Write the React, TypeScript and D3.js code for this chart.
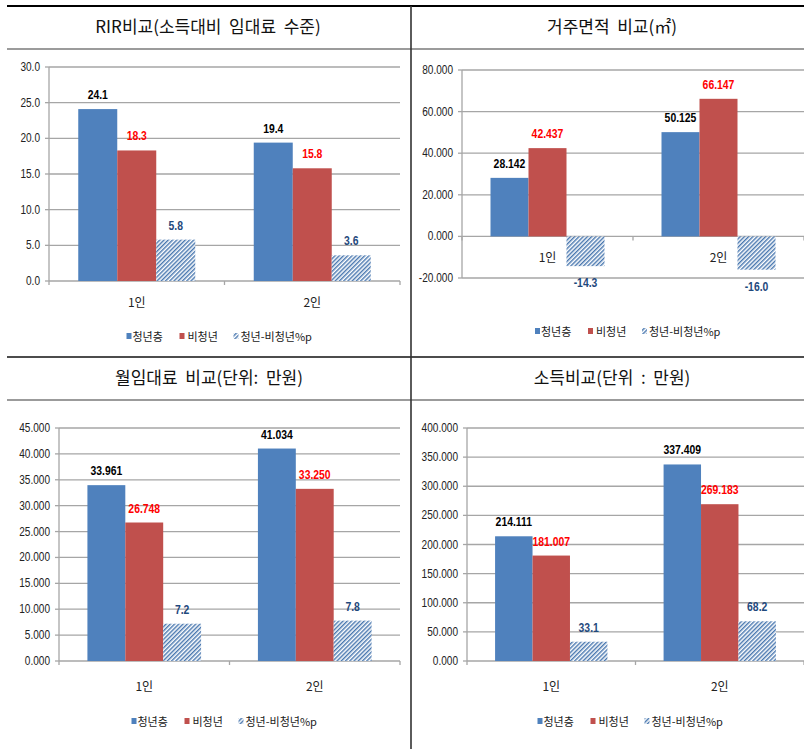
import React from "react";
import * as d3 from "d3";

const categories = ["1인", "2인"];
const seriesNames = ["청년층", "비청년", "청년-비청년%p"];

const rirYouth = [24.1, 19.4];
const rirNonYouth = [18.3, 15.8];
const rirDiff = [5.8, 3.6];

const areaYouth = [28.142, 50.125];
const areaNonYouth = [42.437, 66.147];
const areaDiff = [-14.3, -16.0];

const rentYouth = [33.961, 41.034];
const rentNonYouth = [26.748, 33.25];
const rentDiff = [7.2, 7.8];

const incomeYouth = [214.111, 337.409];
const incomeNonYouth = [181.007, 269.183];
const incomeDiff = [33.1, 68.2];

const titles = [
  "RIR비교(소득대비  임대료  수준)",
  "거주면적  비교(㎡)",
  "월임대료  비교(단위:  만원)",
  "소득비교(단위  :  만원)",
];

const rirTicks = [0, 5, 10, 15, 20, 25, 30];
const areaTicks = [-20, 0, 20, 40, 60, 80];
const rentTicks = [0, 5, 10, 15, 20, 25, 30, 35, 40, 45];
const incomeTicks = [0, 50, 100, 150, 200, 250, 300, 350, 400];

const BLUE = "#4F81BD";
const RED = "#C0504D";
const LABEL_COLORS = ["#000000", "#FF0000", "#1F497D"];
const KFONT = "'Noto Sans CJK KR', 'Noto Sans', sans-serif";
const NFONT = "'Liberation Sans', Arial, sans-serif";

const locale = d3.formatLocale({
  decimal: ".",
  thousands: ",",
  grouping: [3],
  currency: ["", ""],
  minus: "-",
});

type Panel = {
  title: string;
  titleX: number;
  titleY: number;
  x0: number;
  x1: number;
  yTop: number;
  yBot: number;
  ticks: number[];
  tickFmt: string;
  valFmt: string;
  series: number[][];
  catDy: number;
  legendY: number;
};

const panels: Panel[] = [
  {
    title: titles[0], titleX: 208, titleY: 33,
    x0: 49, x1: 400, yTop: 67, yBot: 281,
    ticks: rirTicks, tickFmt: ".1f", valFmt: ".1f",
    series: [rirYouth, rirNonYouth, rirDiff], catDy: 26, legendY: 341,
  },
  {
    title: titles[1], titleX: 612, titleY: 33,
    x0: 462, x1: 804, yTop: 70, yBot: 278,
    ticks: areaTicks, tickFmt: ".3f", valFmt: ".3f",
    series: [areaYouth, areaNonYouth, areaDiff], catDy: 26, legendY: 336,
  },
  {
    title: titles[2], titleX: 209, titleY: 384,
    x0: 59, x1: 400, yTop: 428, yBot: 661,
    ticks: rentTicks, tickFmt: ".3f", valFmt: ".3f",
    series: [rentYouth, rentNonYouth, rentDiff], catDy: 30, legendY: 726,
  },
  {
    title: titles[3], titleX: 612, titleY: 384,
    x0: 467, x1: 804, yTop: 428, yBot: 661,
    ticks: incomeTicks, tickFmt: ".3f", valFmt: ".3f",
    series: [incomeYouth, incomeNonYouth, incomeDiff], catDy: 30, legendY: 726,
  },
];

function NarrowText(props: {
  x: number;
  y: number;
  sx: number;
  anchor: string;
  size: number;
  bold?: boolean;
  fill: string;
  children: string;
}) {
  return (
    <text
      transform={`translate(${props.x},${props.y}) scale(${props.sx},1)`}
      textAnchor={props.anchor}
      fontFamily={NFONT}
      fontSize={props.size}
      fontWeight={props.bold ? "bold" : "normal"}
      fill={props.fill}
    >
      {props.children}
    </text>
  );
}

function ChartPanel({ p, idx }: { p: Panel; idx: number }) {
  const y = d3
    .scaleLinear()
    .domain([p.ticks[0], p.ticks[p.ticks.length - 1]])
    .range([p.yBot, p.yTop]);
  const xCat = d3.scaleBand<string>().domain(categories).range([p.x0, p.x1]).padding(0);
  const xSer = d3
    .scaleBand<string>()
    .domain(seriesNames)
    .range([0, xCat.bandwidth()])
    .paddingInner(0)
    .paddingOuter(0.75);
  const zeroY = y(0);
  const tickF = locale.format(p.tickFmt);
  const valF = locale.format(p.valFmt);
  const diffF = locale.format(".1f");
  const fills = [BLUE, RED, `url(#hatch${idx})`];
  const boundaries = [p.x0, p.x0 + xCat.bandwidth(), p.x1];
  const plotCenter = (p.x0 + p.x1) / 2;
  const lx = plotCenter - 98;

  return (
    <g>
      <defs>
        <pattern
          id={`hatch${idx}`}
          patternUnits="userSpaceOnUse"
          width={3}
          height={3}
          patternTransform="rotate(45)"
        >
          <rect width={3} height={3} fill="#ffffff" />
          <line x1={0.5} y1={0} x2={0.5} y2={3} stroke="#4A78B0" strokeWidth={1.9} />
        </pattern>
      </defs>
      <text
        x={p.titleX}
        y={p.titleY}
        textAnchor="middle"
        fontFamily={KFONT}
        fontSize={17}
        fill="#111"
        style={{ whiteSpace: "pre" }}
      >
        {p.title}
      </text>
      {p.ticks.map((t) => (
        <line
          key={`g${t}`}
          x1={p.x0}
          x2={p.x1}
          y1={y(t)}
          y2={y(t)}
          stroke="#A6A6A6"
          strokeWidth={1.3}
        />
      ))}
      <line x1={p.x0} x2={p.x0} y1={p.yTop} y2={p.yBot} stroke="#A6A6A6" strokeWidth={1.3} />
      {p.ticks.map((t) => (
        <g key={`t${t}`}>
          <line x1={p.x0 - 4} x2={p.x0} y1={y(t)} y2={y(t)} stroke="#A6A6A6" strokeWidth={1.3} />
          <NarrowText x={p.x0 - 9} y={y(t) + 4} sx={0.84} anchor="end" size={12} fill="#222">
            {tickF(t)}
          </NarrowText>
        </g>
      ))}
      {boundaries.map((bx, i) => (
        <line key={`ct${i}`} x1={bx} x2={bx} y1={zeroY} y2={zeroY + 4} stroke="#A6A6A6" strokeWidth={1.3} />
      ))}
      {categories.map((c, ci) =>
        p.series.map((s, si) => {
          const v = s[ci];
          const bx = (xCat(c) as number) + (xSer(seriesNames[si]) as number);
          const bw = xSer.bandwidth();
          const top = Math.min(y(v), zeroY);
          const h = Math.abs(y(v) - zeroY);
          const label = si === 2 ? diffF(v) : valF(v);
          const ly = v >= 0 ? y(v) - 10 : y(v) + 21;
          return (
            <g key={`b${ci}-${si}`}>
              <rect x={bx} y={top} width={bw} height={h} fill={fills[si]} />
              <NarrowText
                x={bx + bw / 2}
                y={ly}
                sx={0.8}
                anchor="middle"
                size={13}
                bold
                fill={LABEL_COLORS[si]}
              >
                {label}
              </NarrowText>
            </g>
          );
        })
      )}
      {categories.map((c) => (
        <text
          key={`cl${c}`}
          x={(xCat(c) as number) + xCat.bandwidth() / 2}
          y={zeroY + p.catDy}
          textAnchor="middle"
          fontFamily={KFONT}
          fontSize={12}
          fill="#222"
        >
          {c}
        </text>
      ))}
      <g fontFamily={KFONT} fontSize={11} fill="#222">
        <rect x={lx} y={p.legendY - 8} width={5} height={6} fill={BLUE} />
        <text x={lx + 6} y={p.legendY}>{seriesNames[0]}</text>
        <rect x={lx + 53} y={p.legendY - 8} width={5} height={6} fill={RED} />
        <text x={lx + 61} y={p.legendY}>{seriesNames[1]}</text>
        <rect x={lx + 107} y={p.legendY - 8} width={5} height={6} fill={`url(#hatch${idx})`} />
        <text x={lx + 114} y={p.legendY}>{seriesNames[2]}</text>
      </g>
    </g>
  );
}

export default function App() {
  return (
    <div style={{ position: "absolute", left: 0, top: 0, width: 804, height: 749, background: "#fff" }}>
      <svg width={804} height={749} style={{ display: "block" }}>
        <rect width={804} height={749} fill="#ffffff" />
        {panels.map((p, i) => (
          <ChartPanel key={i} p={p} idx={i} />
        ))}
        <line x1={7} x2={804} y1={6} y2={6} stroke="#000" strokeWidth={2.2} />
        <line x1={7} x2={804} y1={49} y2={49} stroke="#7a7a7a" strokeWidth={1.6} />
        <line x1={7} x2={804} y1={357} y2={357} stroke="#111" strokeWidth={1.4} />
        <line x1={7} x2={804} y1={400} y2={400} stroke="#7a7a7a" strokeWidth={1.6} />
        <line x1={411} x2={411} y1={6} y2={749} stroke="#333" strokeWidth={1.6} />
      </svg>
    </div>
  );
}
